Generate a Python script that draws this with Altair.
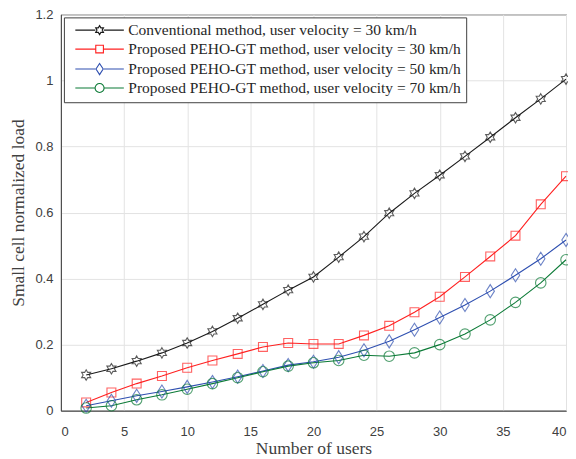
import altair as alt
import pandas as pd

users = [2, 4, 6, 8, 10, 12, 14, 16, 18, 20, 22, 24, 26, 28, 30, 32, 34, 36, 38, 40]
conventional_30 = [0.108, 0.127, 0.150, 0.175, 0.205, 0.240, 0.280, 0.322, 0.365, 0.405,
                   0.465, 0.527, 0.598, 0.658, 0.713, 0.770, 0.828, 0.887, 0.944, 1.004]
peho_30 = [0.025, 0.055, 0.082, 0.105, 0.130, 0.152, 0.172, 0.193, 0.205, 0.202,
           0.202, 0.228, 0.257, 0.298, 0.345, 0.405, 0.467, 0.530, 0.625, 0.710]
peho_50 = [0.015, 0.030, 0.045, 0.058, 0.072, 0.087, 0.103, 0.120, 0.138, 0.148,
           0.162, 0.183, 0.210, 0.245, 0.282, 0.320, 0.362, 0.410, 0.460, 0.517]
peho_70 = [0.008, 0.015, 0.033, 0.048, 0.065, 0.082, 0.100, 0.118, 0.135, 0.145,
           0.152, 0.168, 0.165, 0.175, 0.200, 0.232, 0.275, 0.328, 0.387, 0.457]

series_names = [
    "Conventional method, user velocity = 30 km/h",
    "Proposed PEHO-GT method, user velocity = 30 km/h",
    "Proposed PEHO-GT method, user velocity = 50 km/h",
    "Proposed PEHO-GT method, user velocity = 70 km/h",
]
series_colors = ["#1a1a1a", "#ff2020", "#2e4fb0", "#0b7a36"]

rows = []
for name, vals in zip(series_names, [conventional_30, peho_30, peho_50, peho_70]):
    for u, v in zip(users, vals):
        rows.append({"users": u, "load": v, "series": name})
df = pd.DataFrame(rows)

hexagram = ("M0,-1L0.289,-0.5L0.866,-0.5L0.577,0L0.866,0.5L0.289,0.5L0,1L-0.289,0.5"
            "L-0.866,0.5L-0.577,0L-0.866,-0.5L-0.289,-0.5Z")
square = "M-0.85,-0.85H0.85V0.85H-0.85Z"
diamond = "M0,-1.25L0.8,0L0,1.25L-0.8,0Z"
circle = "M1,0A1,1,0,1,1,-1,0A1,1,0,1,1,1,0Z"
marker_paths = [hexagram, square, diamond, circle]
stub = "M-5.4,0H-0.95M0.95,0H5.4"
legend_paths = [stub + p for p in marker_paths]

SERIF = "Liberation Serif"
SANS = "Liberation Sans"

x_enc = alt.X("users:Q", scale=alt.Scale(domain=[0, 40], nice=False),
              axis=alt.Axis(values=list(range(0, 41, 5)), title="Number of users"))
y_enc = alt.Y("load:Q", scale=alt.Scale(domain=[0, 1.2], nice=False),
              axis=alt.Axis(values=[0, 0.2, 0.4, 0.6, 0.8, 1, 1.2], format="~g",
                            title="Small cell normalized load"))

color_scale = alt.Scale(domain=series_names, range=series_colors)

lines = alt.Chart(df).mark_line(strokeWidth=1.1).encode(
    x=x_enc, y=y_enc,
    color=alt.Color("series:N", scale=color_scale, legend=None),
    detail="series:N",
)

points = alt.Chart(df).mark_point(filled=False, strokeWidth=1.1, size=110).encode(
    x=x_enc, y=y_enc,
    color=alt.Color("series:N", scale=color_scale, legend=None),
    shape=alt.Shape("series:N", scale=alt.Scale(domain=series_names, range=marker_paths), legend=None),
)

leg = alt.Legend(orient="top-left", offset=3, title=None, symbolOffset=23, labelOffset=21)
legend_layer = alt.Chart(df).mark_point(filled=False, opacity=0).encode(
    x=x_enc, y=y_enc,
    color=alt.Color("series:N", scale=color_scale, title=None, legend=leg),
    shape=alt.Shape("series:N", scale=alt.Scale(domain=series_names, range=legend_paths), title=None,
                    legend=leg),
)

chart = alt.layer(lines, points, legend_layer).resolve_scale(
    color="independent", shape="independent"
).properties(
    width=506, height=397,
    autosize=alt.AutoSizeParams(type="none"),
    padding={"left": 53, "top": 6, "right": 2, "bottom": 48},
).configure_view(
    stroke="#404040", strokeWidth=1
).configure_axis(
    grid=True, gridColor="#e3e3e3", gridWidth=1,
    domainColor="#404040", domainWidth=1,
    ticks=False,
    labelFont=SANS, labelFontSize=13, labelColor="#404040",
    titleFont=SERIF, titleFontSize=17.5, titleFontWeight="normal", titleColor="#404040",
).configure_axisX(
    labelPadding=15, titlePadding=1,
).configure_axisY(
    labelPadding=8, titlePadding=7.5,
).configure_legend(
    labelFont=SERIF, labelFontSize=15.5, labelColor="#262626",
    strokeColor="#404040", fillColor="white", padding=5,
    symbolSize=81, symbolStrokeWidth=1.1, symbolOpacity=1,
    rowPadding=2, labelLimit=600,
)

chart.save("out.html", embed_options={"renderer": "svg", "actions": False})
